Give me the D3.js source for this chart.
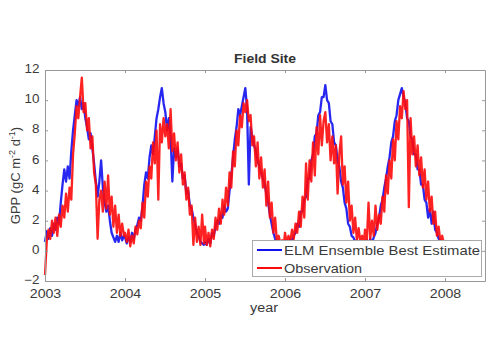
<!DOCTYPE html>
<html><head><meta charset="utf-8">
<script src="https://cdn.jsdelivr.net/npm/d3@7"></script>
<style>
body{margin:0;background:#fff;}
text{font-family:"Liberation Sans",Arial,sans-serif;}
</style>
</head><body>
<svg id="c" width="500" height="356"></svg>
<script>
// 8-day sampled GPP values (gC m-2 d-1), one array per year
const years = [2003, 2004, 2005, 2006, 2007];
const stepDays = 8;
const model2003 = [0.6,1.3,0.8,1.5,1.0, 1.8,1.4,2.2,1.8,3.2, 4.4,5.4,4.6,5.6,4.8, 6.6,8.0,9.0,10.0,9.6, 10.2,9.4,9.8,8.8,8.2, 7.4,7.8,6.8,5.8,4.6, 3.6,4.6,6.0,4.2,3.2, 2.6,3.0,2.0,1.2,0.9, 0.6,1.0,0.6,1.2,0.7, 1.0];
const model2004 = [0.9,0.5,0.9,0.6,1.2, 0.8,1.4,1.7,2.2,2.0, 3.0,4.4,5.2,4.8,6.2, 7.0,6.4,7.6,8.8,9.4, 10.2,10.8,9.8,9.2,8.0, 8.8,7.6,4.6,6.8,6.2, 6.8,5.6,5.8,4.8,5.0, 3.8,4.0,3.0,2.8,2.2, 1.8,1.2,1.0,0.6,0.5, 0.4];
const model2005 = [0.6,0.4,0.8,0.5,1.2, 1.0,1.6,2.0,1.8,2.4, 2.2,3.0,2.6,2.8,4.0, 5.0,6.2,7.4,8.2,9.4, 9.0,9.6,10.2,10.8,9.4, 4.4,8.2,7.6,7.0,6.6, 6.0,5.6,5.2,4.8,4.4, 3.8,3.2,2.4,1.8,1.2, 0.8,0.5,0.4,0.5,0.4, 0.4];
const model2006 = [0.5,0.7,0.5,0.8,0.6, 1.0,1.2,1.8,1.6,2.6, 2.6,3.4,3.6,4.8,4.8, 6.0,6.4,7.6,7.8,9.0, 9.2,10.2,10.2,11.0,10.0, 9.8,8.6,8.4,7.2,7.0, 6.0,5.6,4.6,4.2,3.2, 2.8,1.8,1.6,1.0,0.9, 0.6,0.7,0.5,0.6,0.5, 0.5];
const model2007 = [0.5,0.7,0.4,0.8,0.5, 0.9,1.2,1.8,2.2,3.0, 3.4,4.2,4.8,5.6,6.2, 7.2,7.6,8.6,9.0,10.0, 10.4,10.8,10.2,9.8,8.8, 8.6,7.6,7.4,6.4,6.4, 5.4,5.4,4.4,4.4,3.4, 3.2,2.2,2.8,1.8,2.6, 1.4,1.2,0.8,0.7,0.5, 0.5];
const obs2003 = [-1.6,0.6,1.4,0.8,2.0, 1.2,2.2,1.0,2.4,1.6, 3.0,2.2,3.8,2.6,4.2, 3.4,6.4,7.8,9.6,8.8, 10.2,11.5,9.2,9.8,8.0, 8.8,6.8,7.6,5.2,4.4, 0.8,3.4,4.0,2.6,4.6, 2.8,5.0,2.4,3.6,1.6, 3.0,1.2,2.4,1.0,1.8, 1.0];
const obs2004 = [1.2,0.6,1.4,0.3,1.0, 0.5,1.6,1.1,2.0,1.5, 3.2,2.2,4.6,3.6,5.6, 4.8,7.2,5.8,8.0,3.4, 8.4,7.2,8.8,7.6,8.4, 6.8,9.4,6.6,7.8,6.0, 7.2,5.2,6.4,4.4,5.2, 3.4,4.2,2.4,3.0,0.4, 2.2,0.6,1.6,0.4,2.4, 0.5];
const obs2005 = [1.6,0.4,1.2,0.3,1.4, 0.8,2.2,1.4,2.8,1.8, 3.4,2.4,4.2,3.0,5.2, 4.2,6.6,5.6,8.0,7.0, 9.0,8.2,9.8,9.2,10.0, 8.6,9.0,7.0,7.6,5.6, 7.2,4.8,6.2,4.2,5.4, 3.0,4.6,2.2,3.2,1.2, 2.2,0.6,1.0,0.5,0.7, 0.5];
const obs2006 = [1.2,0.5,1.0,0.6,1.4, 0.8,1.8,1.2,2.6,1.6, 3.6,2.2,5.8,3.4,6.0, 4.6,7.2,5.0,8.2,6.4, 9.0,7.0,8.6,9.2,7.2, 8.4,6.0,7.6,5.8,7.0, 3.8,6.4,7.6,4.4,5.6, 3.2,4.6,2.0,3.0,1.2, 2.2,0.7,1.5,0.6,1.0, 0.5];
const obs2007 = [1.4,0.5,3.2,0.8,2.0, 1.0,3.0,1.4,2.4,1.8, 3.6,2.6,5.0,3.8,6.0, 4.8,7.4,6.0,8.6,7.4, 9.6,8.8,10.6,9.4,10.0, 2.9,8.8,6.4,7.6,5.6, 7.0,5.0,6.2,4.2,5.4, 3.4,4.6,2.6,3.6,1.8, 2.6,1.0,1.6,0.6,1.0, 0.5];
const xTicks = [2003, 2004, 2005, 2006, 2007, 2008];
const yTicks = [-2, 0, 2, 4, 6, 8, 10, 12];
const seriesNames = ["ELM Ensemble Best Estimate", "Observation"];
const seriesColors = ["#1010f0", "#ff0a0a"];

const svg = d3.select("#c");
const L = 45, R = 485, T = 70, B = 281;
const x = d3.scaleLinear().domain([2003, 2008.5]).range([L, R]);
const y = d3.scaleLinear().domain([-2, 12]).range([B, T]);

function toPts(arrs) {
  return arrs.flatMap((a, k) => a.map((v, j) => ({t: years[k] + j * stepDays / 365, v})));
}
const modelPts = toPts([model2003, model2004, model2005, model2006, model2007]);
const obsPts = toPts([obs2003, obs2004, obs2005, obs2006, obs2007]);

svg.append("rect").attr("x", L).attr("y", T).attr("width", R - L).attr("height", B - T).attr("fill", "#fff");

const line = d3.line().x(d => x(d.t)).y(d => y(d.v));
[modelPts, obsPts].forEach((pts, i) => {
  svg.append("path").datum(pts).attr("d", line)
    .attr("fill", "none").attr("stroke", seriesColors[i]).attr("stroke-width", 2.3)
    .attr("stroke-linejoin", "round").attr("opacity", 0.9);
});

const axisColor = "#999";
function styleAxis(g, showText, sx) {
  g.select(".domain").attr("stroke", axisColor);
  g.selectAll(".tick line").attr("stroke", axisColor);
  g.selectAll(".tick text").attr("fill", "#3a3a3a").attr("font-size", 12)
    .attr("font-family", "Liberation Sans, Arial, sans-serif")
    .style("display", showText ? null : "none")
    .attr("transform", `scale(${sx},1)`);
}
svg.append("g").attr("transform", `translate(0,${B})`)
  .call(d3.axisBottom(x).tickValues(xTicks).tickFormat(d3.format("d")).tickSizeInner(-3).tickSizeOuter(0).tickPadding(8))
  .call(g => styleAxis(g, true, 1.18));
svg.append("g").attr("transform", `translate(0,${T})`)
  .call(d3.axisTop(x).tickValues(xTicks).tickSizeInner(-3).tickSizeOuter(0))
  .call(g => styleAxis(g, false, 1));
svg.append("g").attr("transform", `translate(${L},0)`)
  .call(d3.axisLeft(y).tickValues(yTicks).tickSizeInner(-3).tickSizeOuter(0).tickPadding(5))
  .call(g => styleAxis(g, true, 1.12))
  .call(g => g.selectAll(".tick text").attr("dy", "0.22em"));
svg.append("g").attr("transform", `translate(${R},0)`)
  .call(d3.axisRight(y).tickValues(yTicks).tickSizeInner(-3).tickSizeOuter(0))
  .call(g => styleAxis(g, false, 1));

svg.append("text").attr("x", (L + R) / 2).attr("y", 63).attr("text-anchor", "middle")
  .attr("font-size", 12).attr("font-weight", "bold").attr("fill", "#333")
  .attr("textLength", 62).attr("lengthAdjust", "spacingAndGlyphs").text("Field Site");
svg.append("text").attr("x", 264).attr("y", 312).attr("text-anchor", "middle")
  .attr("font-size", 12).attr("fill", "#3a3a3a")
  .attr("textLength", 28).attr("lengthAdjust", "spacingAndGlyphs").text("year");
const yl = svg.append("text").attr("transform", `translate(20,${(T + B) / 2}) rotate(-90)`)
  .attr("text-anchor", "middle").attr("font-size", 13).attr("fill", "#3a3a3a");
yl.append("tspan").text("GPP (gC m");
yl.append("tspan").attr("font-size", 9).attr("dy", -5).text("-2");
yl.append("tspan").attr("dy", 5).text(" d");
yl.append("tspan").attr("font-size", 9).attr("dy", -5).text("-1");
yl.append("tspan").attr("dy", 5).text(")");

const lg = svg.append("g");
lg.append("rect").attr("x", 252.5).attr("y", 240.5).attr("width", 229).attr("height", 36)
  .attr("fill", "#fff").attr("stroke", "#aaa");
const lw = [196, 78];
seriesNames.forEach((n, i) => {
  const yy = 250 + i * 18;
  lg.append("line").attr("x1", 257).attr("x2", 282).attr("y1", yy).attr("y2", yy)
    .attr("stroke", seriesColors[i]).attr("stroke-width", 2);
  lg.append("text").attr("x", 284).attr("y", yy + 4.5).attr("font-size", 13).attr("fill", "#3a3a3a")
    .attr("textLength", lw[i]).attr("lengthAdjust", "spacingAndGlyphs").text(n);
});
</script>
</body></html>
